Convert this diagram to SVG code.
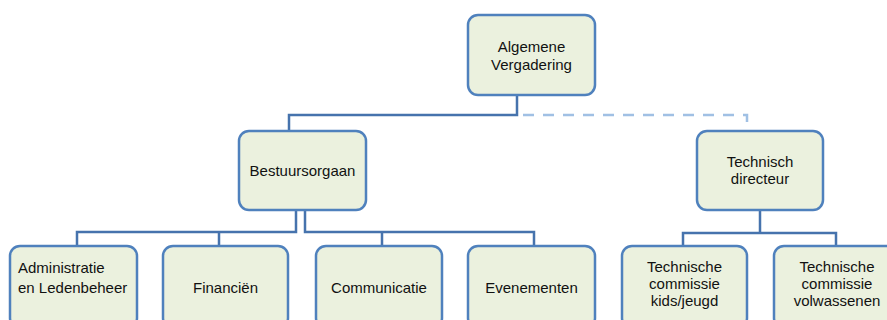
<svg xmlns="http://www.w3.org/2000/svg" width="887" height="320" viewBox="0 0 887 320">
<style>
.box{fill:#ebf1de;stroke:#4f81bd;stroke-width:2.5}
.t{font-family:"Liberation Sans",Arial,sans-serif;font-size:15px;fill:#111;text-anchor:middle}
.tl{text-anchor:start}
.c{fill:none;stroke:#4673ad;stroke-width:2.5}
.d{fill:none;stroke:#a0c0e4;stroke-width:2.5;stroke-dasharray:11 9}
</style>
<rect width="887" height="320" fill="#fff"/>
<g id="connectors">
<path class="c" d="M517,95 V115 H289 V131"/>
<path class="d" d="M523,115 H747 V131"/>
<path class="c" d="M296,210 V232 H77 V246 M219,232 V246"/>
<path class="c" d="M305,210 V232 H534 V246 M382,232 V246"/>
<path class="c" d="M760,210 V233 H683 V246 M760,233 H836 V246"/>
</g>
<g id="algemene-vergadering">
<rect class="box" x="468" y="15" width="127" height="80" rx="10"/>
<text class="t" x="531.5" y="52">Algemene</text>
<text class="t" x="531.5" y="70">Vergadering</text>
</g>
<g id="bestuursorgaan">
<rect class="box" x="239" y="131" width="127" height="79" rx="10"/>
<text class="t" x="302.5" y="176">Bestuursorgaan</text>
</g>
<g id="technisch-directeur">
<rect class="box" x="697" y="131" width="126" height="79" rx="10"/>
<text class="t" x="760" y="167">Technisch</text>
<text class="t" x="760" y="184">directeur</text>
</g>
<g id="administratie">
<rect class="box" x="10" y="246" width="127" height="82" rx="10"/>
<text class="t tl" x="18" y="273">Administratie</text>
<text class="t tl" x="18" y="293">en Ledenbeheer</text>
</g>
<g id="financien">
<rect class="box" x="163" y="246" width="125" height="82" rx="10"/>
<text class="t" x="225.5" y="293">Financiën</text>
</g>
<g id="communicatie">
<rect class="box" x="316" y="246" width="126" height="82" rx="10"/>
<text class="t" x="379" y="293">Communicatie</text>
</g>
<g id="evenementen">
<rect class="box" x="468" y="246" width="127" height="82" rx="10"/>
<text class="t" x="531.5" y="293">Evenementen</text>
</g>
<g id="tc-kids">
<rect class="box" x="622" y="246" width="125" height="82" rx="10"/>
<text class="t" x="684.5" y="272">Technische</text>
<text class="t" x="684.5" y="289">commissie</text>
<text class="t" x="684.5" y="306">kids/jeugd</text>
</g>
<g id="tc-volwassenen">
<rect class="box" x="774" y="246" width="126" height="82" rx="10"/>
<text class="t" x="837" y="272">Technische</text>
<text class="t" x="837" y="289">commissie</text>
<text class="t" x="837" y="306">volwassenen</text>
</g>
</svg>
